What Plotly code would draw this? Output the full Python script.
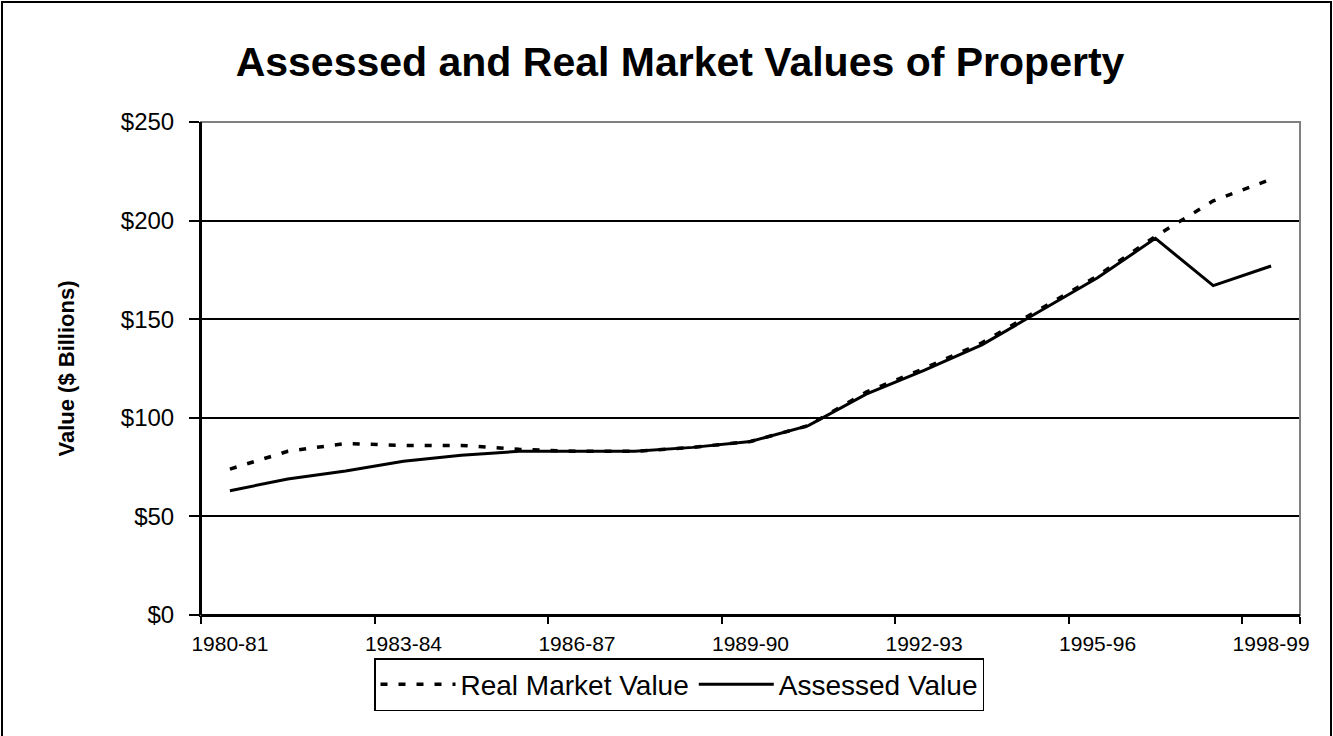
import plotly.graph_objects as go

# fiscal years (categories)
years = ["1980-81", "1981-82", "1982-83", "1983-84", "1984-85", "1985-86", "1986-87",
         "1987-88", "1988-89", "1989-90", "1990-91", "1991-92", "1992-93", "1993-94",
         "1994-95", "1995-96", "1996-97", "1997-98", "1998-99"]

# values in $ billions
real_market = [74, 83, 87, 86, 86, 84, 83, 83, 85, 88, 96, 113, 125, 138, 155, 172, 192, 210, 221]
assessed = [63, 69, 73, 78, 81, 83, 83, 83, 85, 88, 96, 112, 124, 137, 154, 171, 191, 167, 177]

y_ticks = [0, 50, 100, 150, 200, 250]
y_labels = ["$" + str(v) for v in y_ticks]

# plot area in pixels
W, H = 1333, 736
L, R, T, B = 201, 1300, 122, 615
pw, ph = R - L, B - T

def px_x(p):
    return (p - L) / pw

def px_y(p):
    return (B - p) / ph

fig = go.Figure()
fig.add_trace(go.Scatter(x=years, y=real_market, name="Real Market Value", mode="lines",
                         line=dict(color="black", width=3.5, dash="7px,11px")))
fig.add_trace(go.Scatter(x=years, y=assessed, name="Assessed Value", mode="lines",
                         line=dict(color="black", width=3)))

fig.update_layout(
    width=W, height=H,
    paper_bgcolor="white", plot_bgcolor="white",
    margin=dict(l=L, r=W - R, t=T, b=H - B),
    font=dict(family="Liberation Sans, Arial", color="black"),
    title=dict(text="<b>Assessed and Real Market Values of Property</b>",
               x=px_x(680), xref="paper", xanchor="center",
               y=1 - 62 / H, yanchor="middle",
               font=dict(size=41, color="black")),
    xaxis=dict(type="category", range=[-0.5, len(years) - 0.5], tickmode="array",
               tickvals=years[::3], tickson="boundaries", tickangle=0, automargin=False,
               showgrid=False, zeroline=False,
               showline=True, linecolor="black", linewidth=2,
               ticks="outside", ticklen=7, tickwidth=2, tickcolor="black",
               ticklabelstandoff=9, tickfont=dict(size=21)),
    yaxis=dict(range=[0, 250], tickmode="array", tickvals=y_ticks, ticktext=y_labels,
               automargin=False,
               showgrid=True, gridcolor="black", gridwidth=1.5,
               zeroline=False, showline=True, linecolor="black", linewidth=2,
               ticks="outside", ticklen=10, tickwidth=2, tickcolor="black",
               ticklabelstandoff=10, tickfont=dict(size=24),
               title=dict(text="<b>Value ($ Billions)</b>", font=dict(size=22), standoff=40)),
    legend=dict(orientation="h", x=px_x(679), xanchor="center",
                y=px_y(658), yanchor="top",
                bordercolor="black", borderwidth=1.5, bgcolor="white",
                font=dict(size=28), itemwidth=75, tracegroupgap=0),
    showlegend=True,
)

# plot area border (grey top/right) and outer chart frame
fig.add_shape(type="rect", xref="paper", yref="paper",
              x0=0, x1=1, y0=0, y1=1, layer="above",
              line=dict(color="#808080", width=2))
fig.add_shape(type="line", xref="paper", yref="paper",
              x0=0, x1=0, y0=0, y1=1, layer="above",
              line=dict(color="black", width=2))
fig.add_shape(type="line", xref="paper", yref="paper",
              x0=0, x1=1, y0=0, y1=0, layer="above",
              line=dict(color="black", width=2))
fig.add_shape(type="rect", xref="paper", yref="paper",
              x0=px_x(2), x1=px_x(1331), y0=px_y(745), y1=px_y(2),
              line=dict(color="black", width=2))

fig.write_html("out.html", config={"displayModeBar": False},
               post_script="document.body.style.margin = '0';")
